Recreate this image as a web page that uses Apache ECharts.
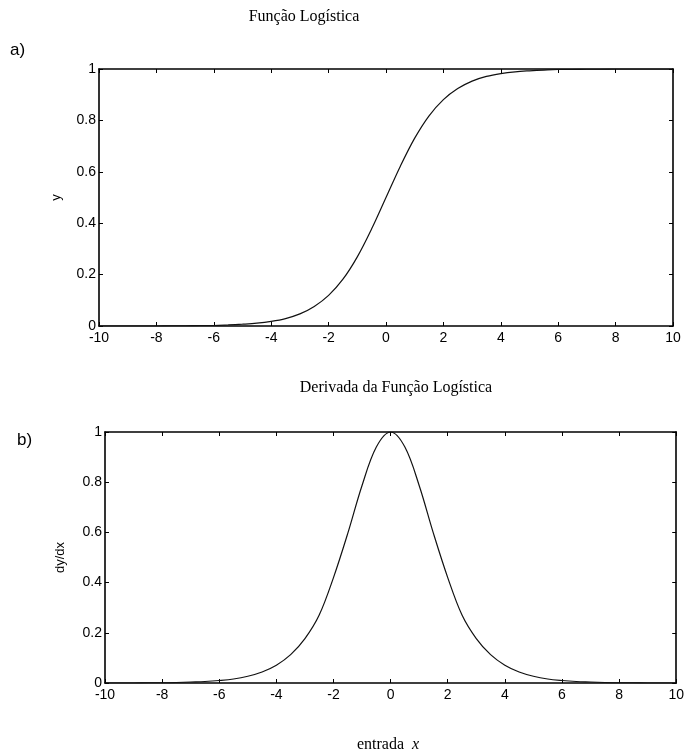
<!DOCTYPE html>
<html>
<head>
<meta charset="utf-8">
<script src="https://cdn.jsdelivr.net/npm/echarts@6/dist/echarts.min.js"></script>
<style>html,body{margin:0;padding:0;background:#fff}#c{width:687px;height:754px}</style>
</head>
<body>
<div id="c"></div>
<script>
// Data
const xValues = [-10,-9.5,-9,-8.5,-8,-7.5,-7,-6.5,-6,-5.5,-5,-4.5,-4,-3.5,-3,-2.5,-2,-1.5,-1,-0.5,0,0.5,1,1.5,2,2.5,3,3.5,4,4.5,5,5.5,6,6.5,7,7.5,8,8.5,9,9.5,10];
const logisticY = [0,0,0,0,0,0.001,0.001,0.002,0.002,0.004,0.007,0.011,0.018,0.029,0.047,0.076,0.119,0.182,0.269,0.378,0.5,0.622,0.731,0.818,0.881,0.924,0.953,0.971,0.982,0.989,0.993,0.996,0.998,0.998,0.999,0.999,1,1,1,1,1];
const derivY = [0,0,0,0.001,0.001,0.002,0.004,0.006,0.010,0.016,0.027,0.044,0.071,0.113,0.177,0.271,0.420,0.596,0.787,0.940,1.000,0.940,0.787,0.596,0.420,0.271,0.177,0.113,0.071,0.044,0.027,0.016,0.010,0.006,0.004,0.002,0.001,0.001,0,0,0];
const xTicks = [-10,-8,-6,-4,-2,0,2,4,6,8,10];
const yTicks = [0,0.2,0.4,0.6,0.8,1];
const titles = ['Função Logística','Derivada da Função Logística'];
const yNames = ['y','dy/dx'];
const panelLabels = ['a)','b)'];

const chart = echarts.init(document.getElementById('c'), null, {renderer:'canvas'});
const lbl = {color:'#000', fontFamily:'Liberation Sans, Arial, sans-serif', fontSize:14};
const axLine = {show:true, onZero:false, lineStyle:{color:'#000', width:1.6}};
const tick = {show:true, inside:true, length:4, lineStyle:{color:'#000', width:1}};
function fmtY(v){ return v===0 ? '0' : (v===1 ? '1' : String(v)); }

const grids = [
  {left:99, right:14, top:69, bottom:428},
  {left:105, right:8, top:432, bottom:71}
];
const xAxes = [], yAxes = [];
[0,1].forEach(g=>{
  xAxes.push({type:'value', gridIndex:g, min:xTicks[0], max:xTicks[xTicks.length-1], interval:2, position:'bottom',
    axisLine:axLine, axisTick:tick, splitLine:{show:false},
    axisLabel:Object.assign({margin:5, formatter:v=>String(v)}, lbl)});
  xAxes.push({type:'value', gridIndex:g, min:xTicks[0], max:xTicks[xTicks.length-1], interval:2, position:'top',
    axisLine:axLine, axisTick:tick, splitLine:{show:false}, axisLabel:{show:false}});
  yAxes.push({type:'value', gridIndex:g, min:yTicks[0], max:yTicks[yTicks.length-1], interval:0.2, position:'left',
    axisLine:axLine, axisTick:tick, splitLine:{show:false},
    name:yNames[g], nameLocation:'middle', nameGap: g===0?36:38, nameRotate:90,
    nameTextStyle:{color:'#000', fontFamily:'Liberation Sans, Arial, sans-serif', fontSize:13},
    axisLabel:Object.assign({margin:3, formatter:fmtY}, lbl)});
  yAxes.push({type:'value', gridIndex:g, min:yTicks[0], max:yTicks[yTicks.length-1], interval:0.2, position:'right',
    axisLine:axLine, axisTick:tick, splitLine:{show:false}, axisLabel:{show:false}});
});

function pairs(ys){ return xValues.map((x,i)=>[x, ys[i]]); }

chart.setOption({
  animation:false,
  backgroundColor:'#fff',
  grid:grids,
  xAxis:xAxes,
  yAxis:yAxes,
  series:[
    {type:'line', xAxisIndex:0, yAxisIndex:0, data:pairs(logisticY), smooth:0.35, showSymbol:false,
     lineStyle:{color:'#111', width:1.2}},
    {type:'line', xAxisIndex:2, yAxisIndex:2, data:pairs(derivY), smooth:0.35, showSymbol:false,
     lineStyle:{color:'#111', width:1.2}}
  ],
  graphic:[
    {type:'text', style:{x:304, y:17, text:titles[0], textAlign:'center', textVerticalAlign:'middle',
      fill:'#000', font:'16px "Liberation Serif", "Times New Roman", serif'}},
    {type:'text', style:{x:396, y:388, text:titles[1], textAlign:'center', textVerticalAlign:'middle',
      fill:'#000', font:'16px "Liberation Serif", "Times New Roman", serif'}},
    {type:'text', style:{x:10, y:50, text:panelLabels[0], textAlign:'left', textVerticalAlign:'middle',
      fill:'#000', font:'17px "Liberation Sans", Arial, sans-serif'}},
    {type:'text', style:{x:17, y:440, text:panelLabels[1], textAlign:'left', textVerticalAlign:'middle',
      fill:'#000', font:'17px "Liberation Sans", Arial, sans-serif'}},
    {type:'text', style:{x:388, y:745, text:'{a|entrada  }{b|x}', textAlign:'center', textVerticalAlign:'middle',
      rich:{a:{fill:'#000', font:'16px "Liberation Serif", "Times New Roman", serif'},
            b:{fill:'#000', font:'italic 16px "Liberation Serif", "Times New Roman", serif'}}}}
  ]
});
</script>
</body>
</html>
